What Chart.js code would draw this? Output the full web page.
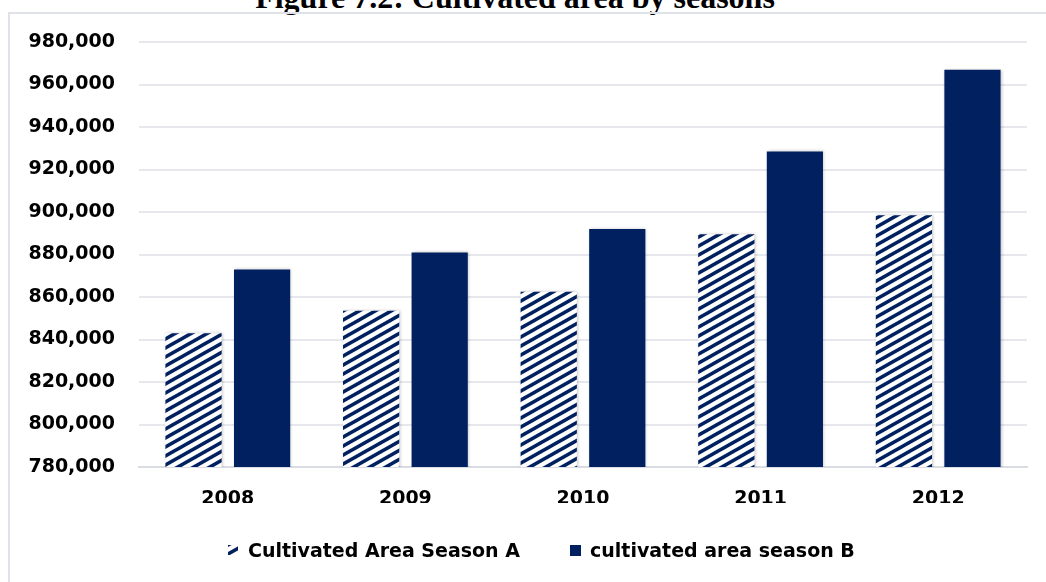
<!DOCTYPE html>
<html>
<head>
<meta charset="utf-8">
<script src="https://cdn.jsdelivr.net/npm/chart.js@4/dist/chart.umd.min.js"></script>
<style>
  html, body { margin: 0; padding: 0; background: #ffffff; }
  #wrap { position: relative; width: 1046px; height: 582px; overflow: hidden; background: #fff; }
  #title { position: absolute; left: -8px; width: 1046px; top: -19px; text-align: center;
           font-family: "Liberation Serif", serif; font-weight: bold; font-size: 32px; line-height: 32px; color: #000; }
  #frame { position: absolute; left: 8px; top: 12px; width: 1100px; height: 600px;
           border-top: 2px solid #dfe2e8; border-left: 2px solid #dfe2e8; }
  #c { position: absolute; left: 0; top: 0; }
  .leg { position: absolute; top: 538px; height: 24px; line-height: 24px; white-space: nowrap;
         font-family: "DejaVu Sans", sans-serif; font-weight: bold; font-size: 19px; color: #000; }
  .leg canvas { position: absolute; left: 0; top: 7px; }
  .leg span { position: absolute; top: 0; }
</style>
</head>
<body>
<div id="wrap">
  <div id="title">Figure 7.2: Cultivated area by seasons</div>
  <div id="frame"></div>
  <canvas id="c" width="1046" height="582"></canvas>
  <div class="leg" id="legA" style="left:228px"><canvas id="mA" width="10" height="10"></canvas><span id="tA" style="left:20px"></span></div>
  <div class="leg" id="legB" style="left:570px"><canvas id="mB" width="11" height="11"></canvas><span id="tB" style="left:20px"></span></div>
</div>
<script>
const categories = ["2008", "2009", "2010", "2011", "2012"];
const seasonA = [843000, 853500, 862500, 889500, 898500];
const seasonB = [873000, 881000, 892000, 928500, 967000];
const seriesNames = ["Cultivated Area Season A", "cultivated area season B"];
const yMin = 780000, yMax = 980000, yStep = 20000;

const NAVY = "#00205f";

function drawStripeTile(p, w, h) {
  p.fillStyle = "#ffffff";
  p.fillRect(0, 0, w, h);
  p.strokeStyle = NAVY;
  p.lineWidth = 3.6;
  p.lineCap = "butt";
  for (let k = -2; k <= 2; k++) {
    p.beginPath();
    p.moveTo(k * w - w, 2 * h);
    p.lineTo(k * w + 2 * w, -h);
    p.stroke();
  }
}
function makePattern(target) {
  const w = 16, h = 9;
  const pc = document.createElement("canvas");
  pc.width = w; pc.height = h;
  drawStripeTile(pc.getContext("2d"), w, h);
  return target.createPattern(pc, "repeat");
}
const ctx = document.getElementById("c").getContext("2d");
const stripes = makePattern(ctx);

// legend (text from the series names, markers in series styles)
document.getElementById("tA").textContent = seriesNames[0];
document.getElementById("tB").textContent = seriesNames[1];
const mA = document.getElementById("mA").getContext("2d");
mA.fillStyle = makePattern(mA);
mA.fillRect(0, 0, 10, 10);
const mB = document.getElementById("mB").getContext("2d");
mB.fillStyle = NAVY;
mB.fillRect(0, 0, 11, 11);

const FONT = { family: "'DejaVu Sans', sans-serif", size: 19, weight: "bold" };

const shadowPlugin = {
  id: "barShadow",
  beforeDatasetsDraw(chart) {
    const c = chart.ctx;
    c.save();
    c.shadowColor = "rgba(0,0,0,0.22)";
    c.shadowBlur = 3;
    c.shadowOffsetX = 1;
    c.shadowOffsetY = 0;
  },
  afterDatasetsDraw(chart) { chart.ctx.restore(); }
};

new Chart(ctx, {
  type: "bar",
  data: {
    labels: categories,
    datasets: [
      { label: seriesNames[0], data: seasonA, backgroundColor: stripes, borderWidth: 0 },
      { label: seriesNames[1], data: seasonB, backgroundColor: NAVY, borderWidth: 0 }
    ]
  },
  plugins: [shadowPlugin],
  options: {
    responsive: false,
    animation: false,
    devicePixelRatio: 1,
    layout: { padding: { left: 0, right: 19, top: 42, bottom: 79 } },
    datasets: { bar: { categoryPercentage: 0.772, barPercentage: 0.82 } },
    plugins: {
      title: { display: false },
      tooltip: { enabled: false },
      legend: { display: false }
    },
    scales: {
      x: {
        grid: { display: false },
        border: { display: true, color: "#d9dce2", width: 2 },
        ticks: { font: FONT, color: "#000", padding: 13 },
        afterFit(s) { s.height = 36; }
      },
      y: {
        min: yMin, max: yMax,
        grid: { color: "#e6e8ee", lineWidth: 2, drawTicks: false },
        border: { display: false },
        ticks: {
          stepSize: yStep, font: FONT, color: "#000", padding: 24,
          callback: v => v.toLocaleString("en-US")
        },
        afterFit(s) { s.width = 139; }
      }
    }
  }
});
</script>
</body>
</html>
